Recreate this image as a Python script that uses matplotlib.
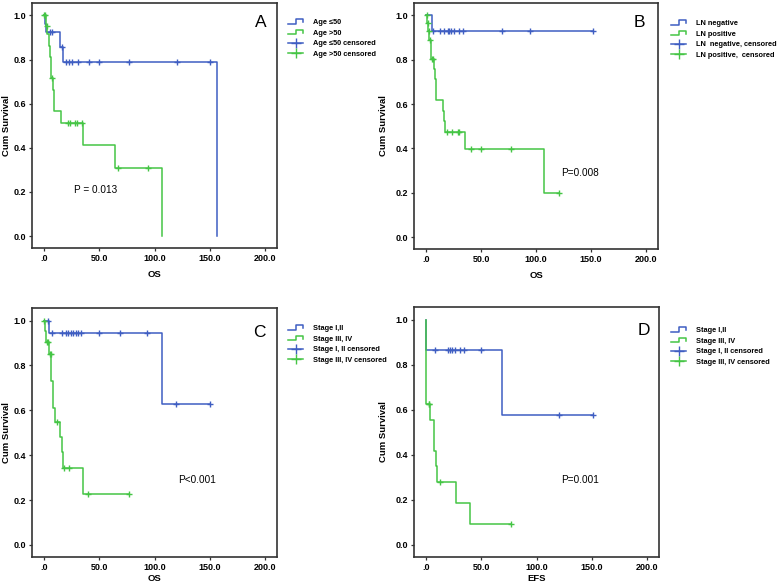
import numpy as np
import matplotlib
matplotlib.use("Agg")
import matplotlib.pyplot as plt
from matplotlib.lines import Line2D
from matplotlib.legend_handler import HandlerBase

plt.rcParams["font.family"] = ["Liberation Sans", "DejaVu Sans"]

BLUE = "#3f5ec2"
GREEN = "#45c545"
FRAME = "#333333"

# ---- data (time, survival) ----
# Panel A: OS by age
a_blue_t = [0, 0.5, 1.5, 14.5, 17.5, 156.3]
a_blue_s = [1.0, 0.962, 0.923, 0.857, 0.787, 0.0]
a_blue_c = [5.4, 6.9, 16.6, 19.6, 22.9, 25.6, 30.5, 40.7, 49.8, 76.9, 120.0, 150.2]
a_green_t = [0, 1.5, 3.0, 4.5, 5.4, 6.0, 7.8, 8.7, 9.2, 15.4, 35.0, 64.3, 107.0]
a_green_s = [1.0, 0.953, 0.916, 0.859, 0.811, 0.716, 0.664, 0.616, 0.565, 0.512, 0.411, 0.308, 0.0]
a_green_c = [0, 0.8, 2.2, 7.2, 22.0, 23.5, 28.0, 29.6, 34.0, 67.3, 93.8]

# Panel B: OS by lymph node status
b_blue_t = [0, 5.5, 151.5]
b_blue_s = [1.0, 0.928, 0.928]
b_blue_c = [6.7, 12.7, 16.7, 19.7, 21.2, 22.7, 25.8, 30.3, 33.9, 69.1, 94.5, 151.5]
b_green_t = [0, 1.0, 2.0, 3.0, 4.2, 4.8, 7.0, 7.9, 8.8, 9.2, 15.2, 16.7, 17.6, 35.8, 107.0, 120.6]
b_green_s = [1.0, 0.966, 0.931, 0.889, 0.849, 0.805, 0.759, 0.711, 0.663, 0.619, 0.570,
             0.523, 0.474, 0.396, 0.198, 0.198]
b_green_c = [0.6, 1.5, 2.5, 3.6, 5.5, 6.4, 18.8, 23.6, 28.8, 30.3, 40.9, 50.0, 77.3, 120.6]

# Panel C: OS by stage
c_blue_t = [0, 4.2, 107.1, 150.2]
c_blue_s = [1.0, 0.945, 0.629, 0.629]
c_blue_c = [3.3, 6.9, 16.6, 19.9, 22.0, 24.1, 26.5, 29.0, 30.5, 33.2, 49.8, 68.8, 93.5, 119.5, 150.2]
c_green_t = [0, 1.0, 1.5, 4.5, 6.3, 7.8, 8.4, 9.4, 14.5, 16.0, 17.5, 35.0, 76.9]
c_green_s = [1.0, 0.952, 0.906, 0.850, 0.730, 0.671, 0.611, 0.546, 0.482, 0.413, 0.343, 0.228, 0.228]
c_green_c = [0, 2.4, 3.3, 5.4, 6.0, 12.0, 18.4, 22.9, 40.1, 76.9]

# Panel D: EFS by stage
d_blue_t = [0, 0.2, 69.1, 150.9]
d_blue_s = [1.0, 0.866, 0.577, 0.577]
d_blue_c = [7.6, 19.7, 21.2, 23.6, 25.8, 30.3, 33.9, 50.0, 120.6, 150.9]
d_green_t = [0, 0.3, 3.9, 7.0, 7.3, 8.5, 10.0, 27.3, 39.4, 77.3]
d_green_s = [1.0, 0.625, 0.556, 0.487, 0.417, 0.348, 0.279, 0.186, 0.093, 0.093]
d_green_c = [2.4, 3.0, 12.7, 77.3]

x_ticks = [0, 50, 100, 150, 200]
x_ticklabels = [".0", "50.0", "100.0", "150.0", "200.0"]
y_ticks = [0.0, 0.2, 0.4, 0.6, 0.8, 1.0]
y_ticklabels = ["0.0", "0.2", "0.4", "0.6", "0.8", "1.0"]


class StepHandler(HandlerBase):
    def create_artists(self, legend, orig, xd, yd, width, height, fontsize, trans):
        x = np.array([0, 0.55, 0.55, 1.0, 1.0]) * width - xd
        y = np.array([0.05, 0.05, 0.95, 0.95, 0.4]) * height - yd
        return [Line2D(x, y, color=orig.get_color(), lw=orig.get_linewidth(), transform=trans)]


def km(ax, t, s, cens, color):
    t = np.asarray(t, float)
    s = np.asarray(s, float)
    line, = ax.step(t, s, where="post", color=color, lw=1.1)
    c = np.asarray(cens, float)
    idx = np.searchsorted(t, c, side="right") - 1
    ax.plot(c, s[idx], ls="none", marker="+", ms=4.2, mew=1.0, color=color)
    return line


fig = plt.figure(figsize=(7.78, 5.86), dpi=100)

panels = [
    # rect, letter, letter pos, p text, p pos, xlabel, xlabel y, legend labels, legend anchor (px), ylabel x
    ([32 / 778, 338 / 586, 245 / 778, 245 / 586], "A", (0.959, 0.951),
     "P = 0.013", (47, 0.21), "OS", -0.088,
     ["Age \u226450", "Age >50", "Age \u226450 censored", "Age >50 censored"],
     (288, 19), -0.087,
     (a_blue_t, a_blue_s, a_blue_c), (a_green_t, a_green_s, a_green_c)),
    ([414 / 778, 337 / 586, 244 / 778, 246 / 586], "B", (0.947, 0.951),
     "P=0.008", (139.8, 0.289), "OS", -0.088,
     ["LN negative", "LN positive", "LN  negative, censored", "LN positive,  censored"],
     (671, 20), -0.105,
     (b_blue_t, b_blue_s, b_blue_c), (b_green_t, b_green_s, b_green_c)),
    ([32 / 778, 29 / 586, 245 / 778, 249 / 586], "C", (0.955, 0.932),
     "P<0.001", (138.9, 0.29), "OS", -0.068,
     ["Stage I,II", "Stage III, IV", "Stage I, II censored", "Stage III, IV censored"],
     (288, 325), -0.087,
     (c_blue_t, c_blue_s, c_blue_c), (c_green_t, c_green_s, c_green_c)),
    ([414 / 778, 29 / 586, 245 / 778, 250 / 586], "D", (0.963, 0.936),
     "P=0.001", (139.8, 0.29), "EFS", -0.068,
     ["Stage I,II", "Stage III, IV", "Stage I, II censored", "Stage III, IV censored"],
     (671, 327), -0.105,
     (d_blue_t, d_blue_s, d_blue_c), (d_green_t, d_green_s, d_green_c)),
]

for rect, letter, lpos, ptxt, ppos, xlab, xly, labels, leg_px, ylx, blue, green in panels:
    ax = fig.add_axes(rect)
    hb = km(ax, *blue, BLUE)
    hg = km(ax, *green, GREEN)

    ax.set_xlim(-11, 211)
    ax.set_ylim(-0.054, 1.056)
    ax.set_xticks(x_ticks)
    ax.set_xticklabels(x_ticklabels)
    ax.set_yticks(y_ticks)
    ax.set_yticklabels(y_ticklabels)
    ax.tick_params(direction="out", length=2.5, width=0.9, color=FRAME,
                   labelsize=6.5, pad=1.5)
    for lab in ax.get_xticklabels() + ax.get_yticklabels():
        lab.set_fontweight("bold")
    for sp in ax.spines.values():
        sp.set_color(FRAME)
        sp.set_linewidth(1.2)

    ax.set_xlabel(xlab, fontsize=6.8, fontweight="bold")
    ax.xaxis.set_label_coords(0.5, xly)
    ax.set_ylabel("Cum Survival", fontsize=6.8, fontweight="bold")
    ax.yaxis.set_label_coords(ylx, 0.5)

    ax.text(lpos[0], lpos[1], letter, transform=ax.transAxes, ha="right", va="top",
            fontsize=12.5)
    ax.text(ppos[0], ppos[1], ptxt, ha="center", va="center", fontsize=7.2)

    cb = Line2D([], [], color=BLUE, lw=1.1, marker="+", ms=6.5, mew=1.0)
    cg = Line2D([], [], color=GREEN, lw=1.1, marker="+", ms=6.5, mew=1.0)
    bx, by = leg_px
    ax.legend([hb, hg, cb, cg], labels, loc="upper left",
              bbox_to_anchor=(bx / 778, 1 - by / 586), bbox_transform=fig.transFigure,
              frameon=False, borderpad=0, borderaxespad=0,
              prop={"weight": "bold", "size": 5.3},
              handlelength=2.05, handletextpad=1.35, labelspacing=0.45,
              numpoints=1, handler_map={hb: StepHandler(), hg: StepHandler()})

fig.savefig("out.png", dpi=100, facecolor="white")
